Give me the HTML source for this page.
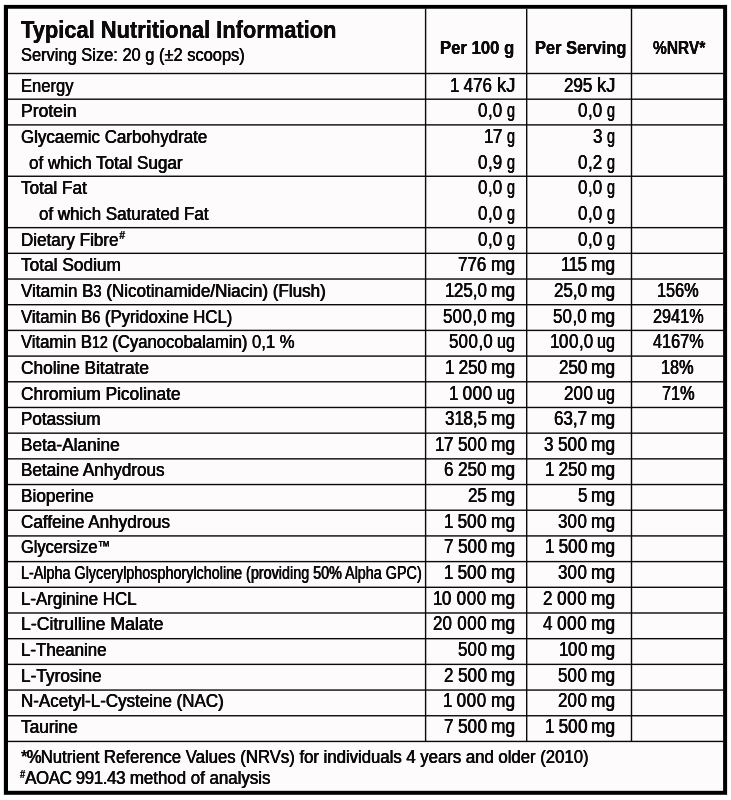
<!DOCTYPE html>
<html><head><meta charset="utf-8"><title>Typical Nutritional Information</title>
<style>
html,body{margin:0;padding:0;background:#ffffff;}
body{width:731px;height:800px;position:relative;overflow:hidden;font-family:"Liberation Sans",sans-serif;color:#0b0b0b;}
svg{position:absolute;left:0;top:0;}
#tx{position:absolute;left:0;top:0;width:731px;height:800px;will-change:transform;}
.t{position:absolute;white-space:nowrap;line-height:24px;transform-origin:0 0;font-weight:400;text-shadow:0.36px 0 0 currentColor,-0.36px 0 0 currentColor;}
.b{font-weight:700;text-shadow:0.15px 0 0 currentColor,-0.15px 0 0 currentColor;}
</style></head><body>
<svg width="731" height="800" viewBox="0 0 731 800" fill="#0a0a0a">
<rect x="3.85" y="4.9" width="723.25" height="789.9" fill="#000"/>
<rect x="8" y="8.75" width="715.1" height="782.05" fill="#fdfbfc"/>
<rect x="8.00" y="72.80" width="715.10" height="1.40"/>
<rect x="8.00" y="98.49" width="715.10" height="1.40"/>
<rect x="8.00" y="124.18" width="715.10" height="1.40"/>
<rect x="8.00" y="175.56" width="715.10" height="1.40"/>
<rect x="8.00" y="226.94" width="715.10" height="1.40"/>
<rect x="8.00" y="252.63" width="715.10" height="1.40"/>
<rect x="8.00" y="278.32" width="715.10" height="1.40"/>
<rect x="8.00" y="304.01" width="715.10" height="1.40"/>
<rect x="8.00" y="329.70" width="715.10" height="1.40"/>
<rect x="8.00" y="355.39" width="715.10" height="1.40"/>
<rect x="8.00" y="381.08" width="715.10" height="1.40"/>
<rect x="8.00" y="406.77" width="715.10" height="1.40"/>
<rect x="8.00" y="432.46" width="715.10" height="1.40"/>
<rect x="8.00" y="458.15" width="715.10" height="1.40"/>
<rect x="8.00" y="483.84" width="715.10" height="1.40"/>
<rect x="8.00" y="509.53" width="715.10" height="1.40"/>
<rect x="8.00" y="535.22" width="715.10" height="1.40"/>
<rect x="8.00" y="560.91" width="715.10" height="1.40"/>
<rect x="8.00" y="586.60" width="715.10" height="1.40"/>
<rect x="8.00" y="612.29" width="715.10" height="1.40"/>
<rect x="8.00" y="637.98" width="715.10" height="1.40"/>
<rect x="8.00" y="663.67" width="715.10" height="1.40"/>
<rect x="8.00" y="689.36" width="715.10" height="1.40"/>
<rect x="8.00" y="715.05" width="715.10" height="1.40"/>
<rect x="8.00" y="740.74" width="715.10" height="1.40"/>
<rect x="424.90" y="8.75" width="1.40" height="732.69"/>
<rect x="526.00" y="8.75" width="1.40" height="732.69"/>
<rect x="630.80" y="8.75" width="1.40" height="732.69"/>
</svg>
<div id="tx">
<div class="t b" style="left:21.05px;top:18px;font-size:23px;transform:scaleX(0.9508)">Typical Nutritional Information</div>
<div class="t" style="left:20.75px;top:43px;font-size:19px;transform:scaleX(0.8653);text-shadow:0.33px 0 0 currentColor,-0.33px 0 0 currentColor">Serving Size: 20 g (±2 scoops)</div>
<div class="t b" style="left:439.78px;top:36px;font-size:19px;transform:scaleX(0.8785)">Per 100 g</div>
<div class="t b" style="left:535.10px;top:36px;font-size:19px;transform:scaleX(0.8655)">Per Serving</div>
<div class="t b" style="left:652.91px;top:36px;font-size:19px;transform:scaleX(0.8164)">%NRV*</div>
<div class="t" style="left:20.50px;top:74px;font-size:19px;transform:scaleX(0.8726)">Energy</div>
<div class="t" style="left:496.76px;top:73px;font-size:19.5px;transform:scaleX(0.9439)">kJ</div>
<div class="t" style="left:450.10px;top:73px;font-size:19.5px;transform:scaleX(0.8700)"><span style="letter-spacing:-0.03em">1</span> 476</div>
<div class="t" style="left:597.26px;top:73px;font-size:19.5px;transform:scaleX(0.9439)">kJ</div>
<div class="t" style="left:564.20px;top:73px;font-size:19.5px;transform:scaleX(0.8700)">295</div>
<div class="t" style="left:20.50px;top:99px;font-size:19px;transform:scaleX(0.9242)">Protein</div>
<div class="t" style="left:506.69px;top:98px;font-size:19.5px;transform:scaleX(0.7400)">g</div>
<div class="t" style="left:477.68px;top:98px;font-size:19.5px;transform:scaleX(0.8700)"><span style="letter-spacing:0.035em">0</span>,0</div>
<div class="t" style="left:607.19px;top:98px;font-size:19.5px;transform:scaleX(0.7400)">g</div>
<div class="t" style="left:578.18px;top:98px;font-size:19.5px;transform:scaleX(0.8700)"><span style="letter-spacing:0.035em">0</span>,0</div>
<div class="t" style="left:20.50px;top:125px;font-size:19px;transform:scaleX(0.8908)">Glycaemic Carbohydrate</div>
<div class="t" style="left:506.69px;top:124px;font-size:19.5px;transform:scaleX(0.7400)">g</div>
<div class="t" style="left:483.67px;top:124px;font-size:19.5px;transform:scaleX(0.8700)"><span style="letter-spacing:-0.03em">1</span>7</div>
<div class="t" style="left:607.19px;top:124px;font-size:19.5px;transform:scaleX(0.7400)">g</div>
<div class="t" style="left:593.00px;top:124px;font-size:19.5px;transform:scaleX(0.8700)">3</div>
<div class="t" style="left:29.10px;top:151px;font-size:19px;transform:scaleX(0.8995)">of which Total Sugar</div>
<div class="t" style="left:506.69px;top:150px;font-size:19.5px;transform:scaleX(0.7400)">g</div>
<div class="t" style="left:477.82px;top:150px;font-size:19.5px;transform:scaleX(0.8700)"><span style="letter-spacing:0.035em">0</span>,9</div>
<div class="t" style="left:607.19px;top:150px;font-size:19.5px;transform:scaleX(0.7400)">g</div>
<div class="t" style="left:578.37px;top:150px;font-size:19.5px;transform:scaleX(0.8700)"><span style="letter-spacing:0.035em">0</span>,2</div>
<div class="t" style="left:20.50px;top:176px;font-size:19px;transform:scaleX(0.9033)">Total Fat</div>
<div class="t" style="left:506.69px;top:175px;font-size:19.5px;transform:scaleX(0.7400)">g</div>
<div class="t" style="left:477.68px;top:175px;font-size:19.5px;transform:scaleX(0.8700)"><span style="letter-spacing:0.035em">0</span>,0</div>
<div class="t" style="left:607.19px;top:175px;font-size:19.5px;transform:scaleX(0.7400)">g</div>
<div class="t" style="left:578.18px;top:175px;font-size:19.5px;transform:scaleX(0.8700)"><span style="letter-spacing:0.035em">0</span>,0</div>
<div class="t" style="left:39.20px;top:202px;font-size:19px;transform:scaleX(0.8917)">of which Saturated Fat</div>
<div class="t" style="left:506.69px;top:201px;font-size:19.5px;transform:scaleX(0.7400)">g</div>
<div class="t" style="left:477.68px;top:201px;font-size:19.5px;transform:scaleX(0.8700)"><span style="letter-spacing:0.035em">0</span>,0</div>
<div class="t" style="left:607.19px;top:201px;font-size:19.5px;transform:scaleX(0.7400)">g</div>
<div class="t" style="left:578.18px;top:201px;font-size:19.5px;transform:scaleX(0.8700)"><span style="letter-spacing:0.035em">0</span>,0</div>
<div class="t" style="left:20.50px;top:228px;font-size:19px;transform:scaleX(0.8965)">Dietary Fibr<span style="letter-spacing:0.05em">e</span><span style="font-size:60%;position:relative;top:-0.62em">#</span></div>
<div class="t" style="left:506.69px;top:227px;font-size:19.5px;transform:scaleX(0.7400)">g</div>
<div class="t" style="left:477.68px;top:227px;font-size:19.5px;transform:scaleX(0.8700)"><span style="letter-spacing:0.035em">0</span>,0</div>
<div class="t" style="left:607.19px;top:227px;font-size:19.5px;transform:scaleX(0.7400)">g</div>
<div class="t" style="left:578.18px;top:227px;font-size:19.5px;transform:scaleX(0.8700)"><span style="letter-spacing:0.035em">0</span>,0</div>
<div class="t" style="left:20.50px;top:253px;font-size:19px;transform:scaleX(0.9098)">Total Sodium</div>
<div class="t" style="left:490.85px;top:252px;font-size:19.5px;transform:scaleX(0.8883)">mg</div>
<div class="t" style="left:458.33px;top:252px;font-size:19.5px;transform:scaleX(0.8700)">776</div>
<div class="t" style="left:591.35px;top:252px;font-size:19.5px;transform:scaleX(0.8883)">mg</div>
<div class="t" style="left:561.07px;top:252px;font-size:19.5px;transform:scaleX(0.8700)"><span style="letter-spacing:-0.03em">11</span>5</div>
<div class="t" style="left:20.50px;top:279px;font-size:19px;transform:scaleX(0.8958)">Vitamin B<span style="font-size:85%">3</span> (Nicotinamide/Niacin) (Flush)</div>
<div class="t" style="left:490.85px;top:278px;font-size:19.5px;transform:scaleX(0.8883)">mg</div>
<div class="t" style="left:444.61px;top:278px;font-size:19.5px;transform:scaleX(0.8700)"><span style="letter-spacing:-0.03em">1</span>25,0</div>
<div class="t" style="left:591.35px;top:278px;font-size:19.5px;transform:scaleX(0.8883)">mg</div>
<div class="t" style="left:554.04px;top:278px;font-size:19.5px;transform:scaleX(0.8700)">25,0</div>
<div class="t" style="left:656.85px;top:278px;font-size:19.5px;transform:scaleX(0.8350)">156%</div>
<div class="t" style="left:20.50px;top:305px;font-size:19px;transform:scaleX(0.8810)">Vitamin B<span style="font-size:85%">6</span> (Pyridoxine HCL)</div>
<div class="t" style="left:490.85px;top:304px;font-size:19.5px;transform:scaleX(0.8883)">mg</div>
<div class="t" style="left:442.90px;top:304px;font-size:19.5px;transform:scaleX(0.8700)">5<span style="letter-spacing:0.035em">00</span>,0</div>
<div class="t" style="left:591.35px;top:304px;font-size:19.5px;transform:scaleX(0.8883)">mg</div>
<div class="t" style="left:553.43px;top:304px;font-size:19.5px;transform:scaleX(0.8700)">5<span style="letter-spacing:0.035em">0</span>,0</div>
<div class="t" style="left:652.53px;top:304px;font-size:19.5px;transform:scaleX(0.8350)">2941%</div>
<div class="t" style="left:20.50px;top:330px;font-size:19px;transform:scaleX(0.8762)">Vitamin B<span style="font-size:85%">12</span> (Cyanocobalamin) 0,1 %</div>
<div class="t" style="left:496.96px;top:329px;font-size:19.5px;transform:scaleX(0.8238)">ug</div>
<div class="t" style="left:448.90px;top:329px;font-size:19.5px;transform:scaleX(0.8700)">5<span style="letter-spacing:0.035em">00</span>,0</div>
<div class="t" style="left:597.46px;top:329px;font-size:19.5px;transform:scaleX(0.8238)">ug</div>
<div class="t" style="left:549.92px;top:329px;font-size:19.5px;transform:scaleX(0.8700)"><span style="letter-spacing:-0.03em">1</span><span style="letter-spacing:0.035em">00</span>,0</div>
<div class="t" style="left:652.75px;top:329px;font-size:19.5px;transform:scaleX(0.8350)">4167%</div>
<div class="t" style="left:20.50px;top:356px;font-size:19px;transform:scaleX(0.9110)">Choline Bitatrate</div>
<div class="t" style="left:490.85px;top:355px;font-size:19.5px;transform:scaleX(0.8883)">mg</div>
<div class="t" style="left:444.61px;top:355px;font-size:19.5px;transform:scaleX(0.8700)"><span style="letter-spacing:-0.03em">1</span> 250</div>
<div class="t" style="left:591.35px;top:355px;font-size:19.5px;transform:scaleX(0.8883)">mg</div>
<div class="t" style="left:558.75px;top:355px;font-size:19.5px;transform:scaleX(0.8700)">250</div>
<div class="t" style="left:661.37px;top:355px;font-size:19.5px;transform:scaleX(0.8350)">18%</div>
<div class="t" style="left:20.50px;top:382px;font-size:19px;transform:scaleX(0.9103)">Chromium Picolinate</div>
<div class="t" style="left:496.96px;top:381px;font-size:19.5px;transform:scaleX(0.8238)">ug</div>
<div class="t" style="left:449.40px;top:381px;font-size:19.5px;transform:scaleX(0.8700)"><span style="letter-spacing:-0.03em">1</span> <span style="letter-spacing:0.035em">00</span>0</div>
<div class="t" style="left:597.46px;top:381px;font-size:19.5px;transform:scaleX(0.8238)">ug</div>
<div class="t" style="left:564.14px;top:381px;font-size:19.5px;transform:scaleX(0.8700)">2<span style="letter-spacing:0.035em">0</span>0</div>
<div class="t" style="left:661.58px;top:381px;font-size:19.5px;transform:scaleX(0.8350)">71%</div>
<div class="t" style="left:20.50px;top:407px;font-size:19px;transform:scaleX(0.8965)">Potassium</div>
<div class="t" style="left:490.85px;top:406px;font-size:19.5px;transform:scaleX(0.8883)">mg</div>
<div class="t" style="left:444.65px;top:406px;font-size:19.5px;transform:scaleX(0.8700)">3<span style="letter-spacing:-0.03em">1</span>8,5</div>
<div class="t" style="left:591.35px;top:406px;font-size:19.5px;transform:scaleX(0.8883)">mg</div>
<div class="t" style="left:554.23px;top:406px;font-size:19.5px;transform:scaleX(0.8700)">63,7</div>
<div class="t" style="left:20.50px;top:433px;font-size:19px;transform:scaleX(0.9069)">Beta-Alanine</div>
<div class="t" style="left:490.85px;top:432px;font-size:19.5px;transform:scaleX(0.8883)">mg</div>
<div class="t" style="left:434.57px;top:432px;font-size:19.5px;transform:scaleX(0.8700)"><span style="letter-spacing:-0.03em">1</span>7 5<span style="letter-spacing:0.035em">0</span>0</div>
<div class="t" style="left:591.35px;top:432px;font-size:19.5px;transform:scaleX(0.8883)">mg</div>
<div class="t" style="left:544.00px;top:432px;font-size:19.5px;transform:scaleX(0.8700)">3 5<span style="letter-spacing:0.035em">0</span>0</div>
<div class="t" style="left:20.50px;top:458px;font-size:19px;transform:scaleX(0.9003)">Betaine Anhydrous</div>
<div class="t" style="left:490.85px;top:457px;font-size:19.5px;transform:scaleX(0.8883)">mg</div>
<div class="t" style="left:444.10px;top:457px;font-size:19.5px;transform:scaleX(0.8700)">6 250</div>
<div class="t" style="left:591.35px;top:457px;font-size:19.5px;transform:scaleX(0.8883)">mg</div>
<div class="t" style="left:545.11px;top:457px;font-size:19.5px;transform:scaleX(0.8700)"><span style="letter-spacing:-0.03em">1</span> 250</div>
<div class="t" style="left:20.50px;top:484px;font-size:19px;transform:scaleX(0.9076)">Bioperine</div>
<div class="t" style="left:490.85px;top:483px;font-size:19.5px;transform:scaleX(0.8883)">mg</div>
<div class="t" style="left:467.73px;top:483px;font-size:19.5px;transform:scaleX(0.8700)">25</div>
<div class="t" style="left:591.35px;top:483px;font-size:19.5px;transform:scaleX(0.8883)">mg</div>
<div class="t" style="left:577.66px;top:483px;font-size:19.5px;transform:scaleX(0.8700)">5</div>
<div class="t" style="left:20.50px;top:510px;font-size:19px;transform:scaleX(0.9004)">Caffeine Anhydrous</div>
<div class="t" style="left:490.85px;top:509px;font-size:19.5px;transform:scaleX(0.8883)">mg</div>
<div class="t" style="left:444.00px;top:509px;font-size:19.5px;transform:scaleX(0.8700)"><span style="letter-spacing:-0.03em">1</span> 5<span style="letter-spacing:0.035em">0</span>0</div>
<div class="t" style="left:591.35px;top:509px;font-size:19.5px;transform:scaleX(0.8883)">mg</div>
<div class="t" style="left:558.14px;top:509px;font-size:19.5px;transform:scaleX(0.8700)">3<span style="letter-spacing:0.035em">0</span>0</div>
<div class="t" style="left:20.50px;top:535px;font-size:19px;transform:scaleX(0.8632)">Glycersize<span style="font-size:78%;position:relative;top:-0.13em">™</span></div>
<div class="t" style="left:490.85px;top:534px;font-size:19.5px;transform:scaleX(0.8883)">mg</div>
<div class="t" style="left:443.50px;top:534px;font-size:19.5px;transform:scaleX(0.8700)">7 5<span style="letter-spacing:0.035em">0</span>0</div>
<div class="t" style="left:591.35px;top:534px;font-size:19.5px;transform:scaleX(0.8883)">mg</div>
<div class="t" style="left:544.50px;top:534px;font-size:19.5px;transform:scaleX(0.8700)"><span style="letter-spacing:-0.03em">1</span> 5<span style="letter-spacing:0.035em">0</span>0</div>
<div class="t" style="left:20.50px;top:561px;font-size:19px;transform:scaleX(0.7558)">L-Alpha Glycerylphosphorylcholine (providing 50% Alpha GPC)</div>
<div class="t" style="left:490.85px;top:560px;font-size:19.5px;transform:scaleX(0.8883)">mg</div>
<div class="t" style="left:444.00px;top:560px;font-size:19.5px;transform:scaleX(0.8700)"><span style="letter-spacing:-0.03em">1</span> 5<span style="letter-spacing:0.035em">0</span>0</div>
<div class="t" style="left:591.35px;top:560px;font-size:19.5px;transform:scaleX(0.8883)">mg</div>
<div class="t" style="left:558.14px;top:560px;font-size:19.5px;transform:scaleX(0.8700)">3<span style="letter-spacing:0.035em">0</span>0</div>
<div class="t" style="left:20.50px;top:587px;font-size:19px;transform:scaleX(0.8896)">L-Arginine HCL</div>
<div class="t" style="left:490.85px;top:586px;font-size:19.5px;transform:scaleX(0.8883)">mg</div>
<div class="t" style="left:433.37px;top:586px;font-size:19.5px;transform:scaleX(0.8700)"><span style="letter-spacing:-0.03em">1</span><span style="letter-spacing:0.035em">0</span> <span style="letter-spacing:0.035em">00</span>0</div>
<div class="t" style="left:591.35px;top:586px;font-size:19.5px;transform:scaleX(0.8883)">mg</div>
<div class="t" style="left:543.40px;top:586px;font-size:19.5px;transform:scaleX(0.8700)">2 <span style="letter-spacing:0.035em">00</span>0</div>
<div class="t" style="left:20.50px;top:612px;font-size:19px;transform:scaleX(0.9299)">L-Citrulline Malate</div>
<div class="t" style="left:490.85px;top:611px;font-size:19.5px;transform:scaleX(0.8883)">mg</div>
<div class="t" style="left:432.85px;top:611px;font-size:19.5px;transform:scaleX(0.8700)">2<span style="letter-spacing:0.035em">0</span> <span style="letter-spacing:0.035em">00</span>0</div>
<div class="t" style="left:591.35px;top:611px;font-size:19.5px;transform:scaleX(0.8883)">mg</div>
<div class="t" style="left:543.40px;top:611px;font-size:19.5px;transform:scaleX(0.8700)">4 <span style="letter-spacing:0.035em">00</span>0</div>
<div class="t" style="left:20.50px;top:638px;font-size:19px;transform:scaleX(0.8900)">L-Theanine</div>
<div class="t" style="left:490.85px;top:637px;font-size:19.5px;transform:scaleX(0.8883)">mg</div>
<div class="t" style="left:457.64px;top:637px;font-size:19.5px;transform:scaleX(0.8700)">5<span style="letter-spacing:0.035em">0</span>0</div>
<div class="t" style="left:591.35px;top:637px;font-size:19.5px;transform:scaleX(0.8883)">mg</div>
<div class="t" style="left:558.65px;top:637px;font-size:19.5px;transform:scaleX(0.8700)"><span style="letter-spacing:-0.03em">1</span><span style="letter-spacing:0.035em">0</span>0</div>
<div class="t" style="left:20.50px;top:664px;font-size:19px;transform:scaleX(0.9083)">L-Tyrosine</div>
<div class="t" style="left:490.85px;top:663px;font-size:19.5px;transform:scaleX(0.8883)">mg</div>
<div class="t" style="left:443.50px;top:663px;font-size:19.5px;transform:scaleX(0.8700)">2 5<span style="letter-spacing:0.035em">0</span>0</div>
<div class="t" style="left:591.35px;top:663px;font-size:19.5px;transform:scaleX(0.8883)">mg</div>
<div class="t" style="left:558.14px;top:663px;font-size:19.5px;transform:scaleX(0.8700)">5<span style="letter-spacing:0.035em">0</span>0</div>
<div class="t" style="left:20.50px;top:689px;font-size:19px;transform:scaleX(0.8932)">N-Acetyl-L-Cysteine (NAC)</div>
<div class="t" style="left:490.85px;top:688px;font-size:19.5px;transform:scaleX(0.8883)">mg</div>
<div class="t" style="left:443.40px;top:688px;font-size:19.5px;transform:scaleX(0.8700)"><span style="letter-spacing:-0.03em">1</span> <span style="letter-spacing:0.035em">00</span>0</div>
<div class="t" style="left:591.35px;top:688px;font-size:19.5px;transform:scaleX(0.8883)">mg</div>
<div class="t" style="left:558.14px;top:688px;font-size:19.5px;transform:scaleX(0.8700)">2<span style="letter-spacing:0.035em">0</span>0</div>
<div class="t" style="left:20.50px;top:715px;font-size:19px;transform:scaleX(0.9092)">Taurine</div>
<div class="t" style="left:490.85px;top:714px;font-size:19.5px;transform:scaleX(0.8883)">mg</div>
<div class="t" style="left:443.50px;top:714px;font-size:19.5px;transform:scaleX(0.8700)">7 5<span style="letter-spacing:0.035em">0</span>0</div>
<div class="t" style="left:591.35px;top:714px;font-size:19.5px;transform:scaleX(0.8883)">mg</div>
<div class="t" style="left:544.50px;top:714px;font-size:19.5px;transform:scaleX(0.8700)"><span style="letter-spacing:-0.03em">1</span> 5<span style="letter-spacing:0.035em">0</span>0</div>
<div class="t" style="left:20.93px;top:745px;font-size:18.3px;transform:scaleX(0.9149);text-shadow:0.33px 0 0 currentColor,-0.33px 0 0 currentColor"><span style="letter-spacing:-0.05em">*%</span>Nutrient Reference Values (NRVs) for individuals 4 years and older (2010)</div>
<div class="t" style="left:20.16px;top:766px;font-size:18.3px;transform:scaleX(0.9225);text-shadow:0.33px 0 0 currentColor,-0.33px 0 0 currentColor"><span style="font-size:55%;position:relative;top:-0.55em">#</span><span style="letter-spacing:-0.022em">AOAC 991.43</span> method of analysis</div>
</div>
</body></html>
